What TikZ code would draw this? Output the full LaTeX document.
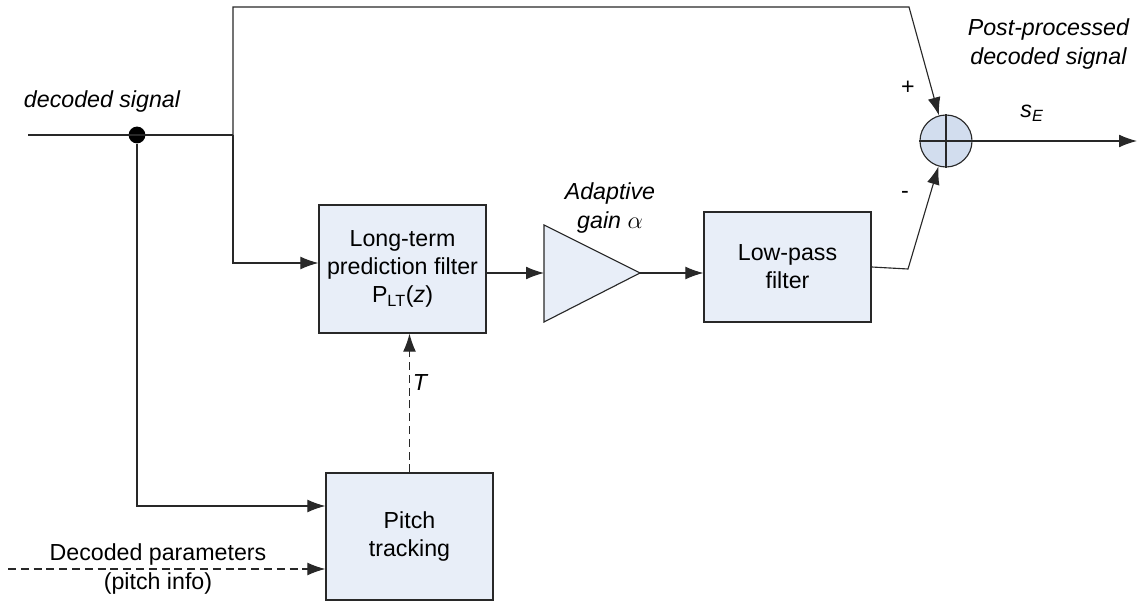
\documentclass[tikz,border=0pt]{standalone}
\usepackage{xcolor}
\usepackage{fontspec}
\setmainfont{Liberation Sans}
\usepackage{tikz}
\usetikzlibrary{arrows.meta,calc}

\definecolor{blockfill}{RGB}{232,238,248}
\definecolor{sumfill}{RGB}{210,221,238}
\definecolor{wirecol}{RGB}{40,40,40}

\begin{document}
\begin{tikzpicture}[x=0.025cm,y=-0.025cm]
\tikzstyle{every node}=[font=\fontsize{16.5}{20}\selectfont]
\tikzstyle{block}=
[
	draw=wirecol, fill=blockfill, rectangle,
	align=center, inner sep=0pt,
	minimum width=4.175cm, line width=0.8pt
]
\tikzstyle{line}=[draw=wirecol, line width=0.8pt]
\tikzstyle{arrow}=[line, -{Latex[length=0.45cm,width=0.32cm]}]
\tikzstyle{dashline}=[dash pattern=on 0.2cm off 0.12cm]
\tikzstyle{lbl}=[font=\fontsize{16.5}{20}\selectfont\itshape, align=center]

\useasboundingbox (0,0) rectangle (1138,602);

% blocks
\node[block, minimum height=3.2cm] (ltp) at (402.5,269)
	{Long-term\\prediction filter\\P\textsubscript{LT}(\textit{z})};
\node[block, minimum height=2.75cm] (lpf) at (787.5,267) {Low-pass\\filter};
\node[block, minimum height=3.175cm] (pitch) at (409.5,536.5) {Pitch\\tracking};
\node[circle, draw=wirecol, fill=sumfill, line width=0.8pt,
	minimum size=1.3cm, inner sep=0pt] (sum) at (946,141) {};
\draw[line] (sum.north) -- (sum.south) (sum.west) -- (sum.east);
\draw[line, fill=blockfill] (544,225) -- (640,273) coordinate (gain-out)
	-- (544,322) -- cycle;
\coordinate (gain-in) at (544,273);

% points on the wires
\coordinate (in) at (28,135);
\node[circle, fill=black, inner sep=0pt, minimum size=0.42cm] (tap) at (137,135) {};
\coordinate (split) at (233,135);
\coordinate (top-r) at (909,7);
\coordinate (lpf-r) at (908,269);
\coordinate (out) at (1137,141);
\coordinate (par) at (8,569);

% wires
\draw[line] (in) -- (split);
\draw[arrow] (split) |- (top-r) -- (sum);
\draw[arrow] (split) |- ($(ltp.west)+(0,-6)$);
\draw[arrow] (tap) |- ($(pitch.west)+(0,-30.5)$);
\draw[arrow, dashline] (par) -- (par -| pitch.west);
\draw[arrow, dashline] (pitch.north) -- (pitch.north |- ltp.south);
\draw[arrow] (ltp.east |- gain-in) -- (gain-in);
\draw[arrow] (gain-out) -- (gain-out -| lpf.west);
\draw[arrow] (lpf.east) -- (lpf-r) -- (sum);
\draw[arrow] (sum) -- (out);

% labels
\node[lbl] (sig-lbl) at (102,102) {decoded signal};
\node[lbl, anchor=east] (post-lbl) at (1134,44) {Post-processed\\decoded signal};
\node (plus) at (908,88) {+};
\node (minus) at (905,195) {-};
\node[lbl] (se-lbl) at (1032,113) {s\textsubscript{E}};
\node[lbl] (gain-lbl) at (610,208) {Adaptive\\gain $\alpha$};
\node[lbl] (t-lbl) at (420,383) {T};
\node[align=center] (par-lbl) at (158,569) {Decoded parameters\\(pitch info)};
\end{tikzpicture}
\end{document}
